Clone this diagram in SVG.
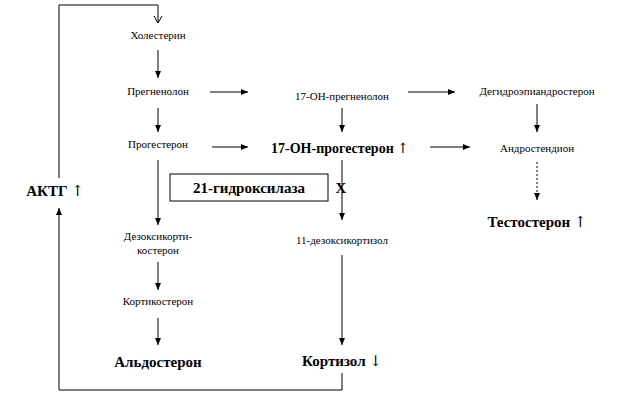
<svg xmlns="http://www.w3.org/2000/svg" width="624" height="409" viewBox="0 0 624 409">
<style>
text{font-family:"Liberation Serif","DejaVu Serif","Times New Roman",serif;font-size:11px;text-anchor:middle;fill:#000}
.b{font-weight:bold;font-size:15px}
.ar{font-family:"DejaVu Serif","Liberation Serif",serif;font-weight:normal}
.l{stroke:#000;stroke-width:1;fill:none}
</style>
<defs>
<marker id="a" markerWidth="8" markerHeight="8" refX="7" refY="4" orient="auto" markerUnits="userSpaceOnUse"><path d="M0,1 L7,4 L0,7z"/></marker>
<marker id="o" markerWidth="10" markerHeight="10" refX="8" refY="5" orient="auto" markerUnits="userSpaceOnUse"><path d="M1,1 L8,5 L1,9" fill="none" stroke="#000"/></marker>
</defs>
<rect width="624" height="409" fill="#fff"/>
<g id="connectors" class="l">
<path d="M59,178 V5 H158 V23" marker-end="url(#o)"/>
<path d="M342,373 V390 H59 V208" marker-end="url(#a)"/>
<path d="M158,50 V78" marker-end="url(#a)"/>
<path d="M158,108 V132" marker-end="url(#a)"/>
<path d="M210,92 H248" marker-end="url(#a)"/>
<path d="M212,147 H248" marker-end="url(#a)"/>
<path d="M408,92 H455" marker-end="url(#a)"/>
<path d="M430,147 H470" marker-end="url(#a)"/>
<path d="M342,108 V132" marker-end="url(#a)"/>
<path d="M342,160 V220" marker-end="url(#a)"/>
<path d="M537,104 V132" marker-end="url(#a)"/>
<path d="M537,162 V200" stroke-dasharray="2,2" marker-end="url(#a)"/>
<path d="M158,160 V225" marker-end="url(#a)"/>
<path d="M158,262 V290" marker-end="url(#a)"/>
<path d="M158,318 V345" marker-end="url(#a)"/>
<path d="M342,255 V345" marker-end="url(#a)"/>
</g>
<g id="n1"><text x="158" y="39">Холестерин</text></g>
<g id="n2"><text x="158" y="95">Прегненолон</text></g>
<g id="n3"><text x="158" y="148">Прогестерон</text></g>
<g id="n4"><text x="342" y="100">17-ОН-прегненолон</text></g>
<g id="n5"><text x="340" y="153" class="b" style="font-size:14px">17-ОН-прогестерон <tspan class="ar">↑</tspan></text></g>
<g id="n6"><text x="537" y="95">Дегидроэпиандростерон</text></g>
<g id="n7"><text x="537" y="152">Андростендион</text></g>
<g id="n8"><text x="537" y="227" class="b">Тестостерон <tspan class="ar">↑</tspan></text></g>
<g id="n9"><rect x="170" y="174" width="158" height="27" fill="none" stroke="#000"/><text x="249" y="193" class="b">21-гидроксилаза</text></g>
<g id="x"><text x="341" y="193" class="b">X</text></g>
<g id="n10"><text x="158" y="240">Дезоксикорти-</text><text x="158" y="254">костерон</text></g>
<g id="n11"><text x="158" y="305">Кортикостерон</text></g>
<g id="n12"><text x="158" y="367" class="b">Альдостерон</text></g>
<g id="n13"><text x="342" y="244">11-дезоксикортизол</text></g>
<g id="n14"><text x="342" y="366" class="b">Кортизол <tspan class="ar">↓</tspan></text></g>
<g id="n15"><text x="55" y="196" class="b">АКТГ <tspan class="ar">↑</tspan></text></g>
</svg>
